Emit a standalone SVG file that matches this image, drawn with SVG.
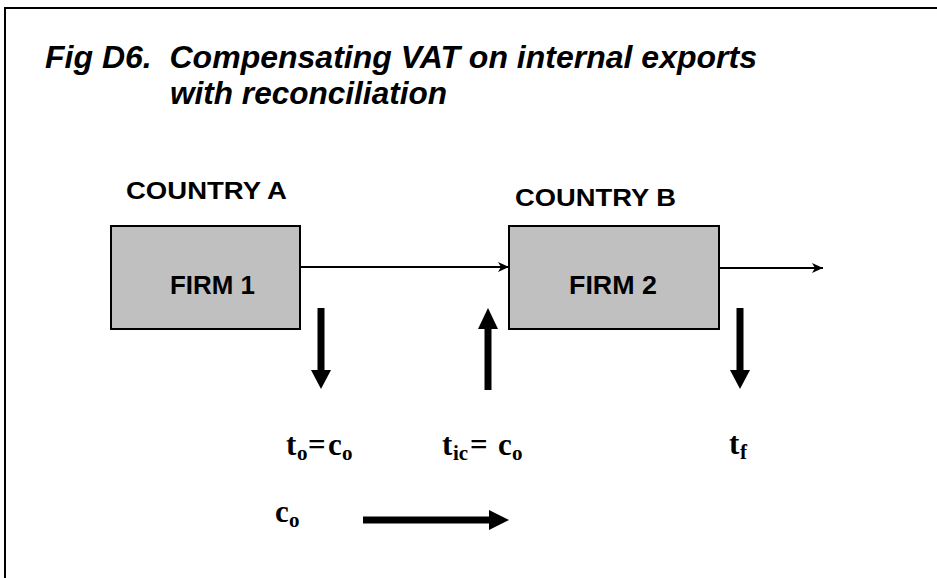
<svg xmlns="http://www.w3.org/2000/svg" width="937" height="578" viewBox="0 0 937 578">
<defs>
<style>
.title{font-family:"Liberation Sans",Arial,sans-serif;font-weight:bold;font-style:italic;font-size:32px;fill:#000}
.country{font-family:"Liberation Sans",Arial,sans-serif;font-weight:bold;font-size:23px;fill:#000}
.firm{font-family:"Liberation Sans",Arial,sans-serif;font-weight:bold;font-size:26px;fill:#000}
.box{fill:#c0c0c0;stroke:#000;stroke-width:2}
.math{font-family:"Liberation Serif","Times New Roman",serif;font-weight:bold;font-size:31px;fill:#000}
.sub{font-size:21px}
.thin{stroke:#000;stroke-width:2;fill:none}
.fat{fill:#000;stroke:none}
</style>
<marker id="ah" markerUnits="userSpaceOnUse" markerWidth="12" markerHeight="10" refX="11" refY="5" orient="auto">
<path d="M0,0 L11,5 L0,10 L3,5 z" fill="#000"/>
</marker>
</defs>
<rect width="937" height="578" fill="#fff"/>
<path d="M5,578 V8 H937" fill="none" stroke="#000" stroke-width="2"/>
<g id="title">
<text class="title" x="45" y="68" textLength="712" lengthAdjust="spacingAndGlyphs" xml:space="preserve">Fig D6.  Compensating VAT on internal exports</text>
<text class="title" x="170" y="104" textLength="277" lengthAdjust="spacingAndGlyphs">with reconciliation</text>
</g>
<g id="countryA"><text class="country" x="126" y="199" textLength="161" lengthAdjust="spacingAndGlyphs">COUNTRY A</text></g>
<g id="countryB"><text class="country" x="515" y="206" textLength="161" lengthAdjust="spacingAndGlyphs">COUNTRY B</text></g>
<g id="firm1">
<rect class="box" x="111" y="226" width="189" height="103"/>
<text class="firm" x="170" y="294" textLength="85" lengthAdjust="spacingAndGlyphs">FIRM 1</text>
</g>
<g id="firm2">
<rect class="box" x="509" y="226" width="210" height="103"/>
<text class="firm" x="569" y="294" textLength="88" lengthAdjust="spacingAndGlyphs">FIRM 2</text>
</g>
<g id="connectors">
<line class="thin" x1="300" y1="267" x2="509" y2="267" marker-end="url(#ah)"/>
<line class="thin" x1="719" y1="268" x2="823" y2="268" marker-end="url(#ah)"/>
<rect class="fat" x="317.5" y="308" width="7" height="63"/>
<polygon class="fat" points="311,370 331,370 321,389"/>
<rect class="fat" x="484.5" y="328" width="7" height="62"/>
<polygon class="fat" points="488,308 478,329 498,329"/>
<rect class="fat" x="736.5" y="308" width="7" height="63"/>
<polygon class="fat" points="730,370 750,370 740,389"/>
<rect class="fat" x="363" y="516.5" width="128" height="7"/>
<polygon class="fat" points="489,510 509,520 489,530"/>
</g>
<g id="labels">
<text class="math" y="455"><tspan x="286">t</tspan><tspan class="sub" x="297" dy="5">o</tspan><tspan x="308" dy="-5">=</tspan><tspan x="328">c</tspan><tspan class="sub" x="342" dy="5">o</tspan></text>
<text class="math" y="455"><tspan x="442">t</tspan><tspan class="sub" x="453" dy="5">ic</tspan><tspan x="470" dy="-5">=</tspan><tspan x="498">c</tspan><tspan class="sub" x="512" dy="5">o</tspan></text>
<text class="math" y="454"><tspan x="729">t</tspan><tspan class="sub" x="740" dy="5">f</tspan></text>
<text class="math" y="522"><tspan x="275">c</tspan><tspan class="sub" x="289" dy="5">o</tspan></text>
</g>
</svg>
